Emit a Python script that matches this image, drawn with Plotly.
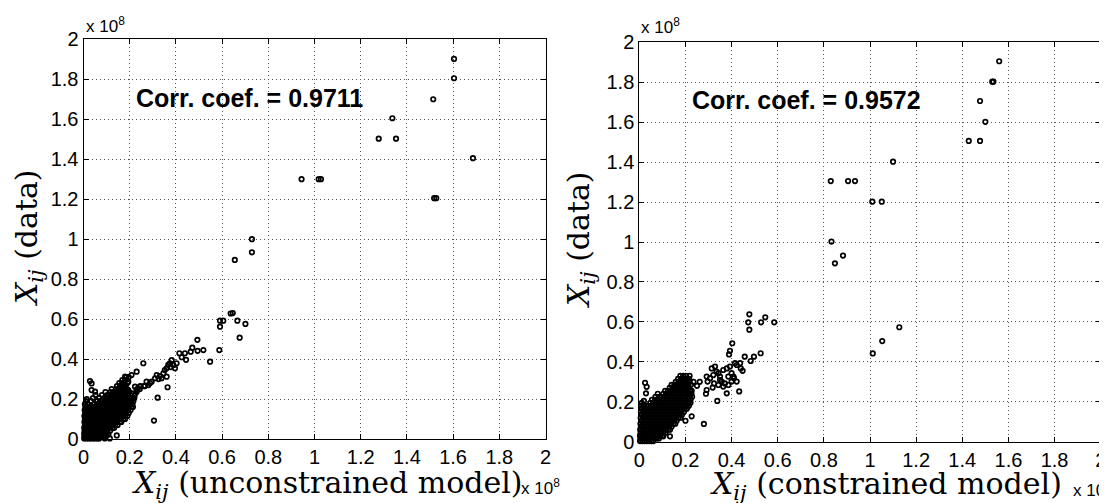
import plotly.graph_objects as go

# values in units of 1e8
# --- left panel: unconstrained model ---
left_outlier_x = [1.604, 1.604, 1.514, 1.337, 1.278, 1.353, 1.686, 0.944, 1.018, 1.028, 1.518, 1.527,
                  0.729, 0.729, 0.655, 0.637, 0.646, 0.666, 0.701, 0.676, 0.591, 0.605, 0.591, 0.588,
                  0.548, 0.493, 0.494, 0.519, 0.471, 0.464, 0.439, 0.425, 0.444, 0.403, 0.415,
                  0.364, 0.321, 0.305, 0.259, 0.108, 0.144, 0.028, 0.035, 0.035, 0.05, 0.014]
left_outlier_y = [1.902, 1.805, 1.70, 1.605, 1.503, 1.503, 1.405, 1.30, 1.30, 1.30, 1.205, 1.205,
                  1.00, 0.934, 0.896, 0.628, 0.630, 0.592, 0.576, 0.507, 0.592, 0.592, 0.562, 0.445,
                  0.387, 0.496, 0.441, 0.445, 0.457, 0.437, 0.429, 0.409, 0.396, 0.379, 0.429,
                  0.259, 0.207, 0.092, 0.379, 0.022, 0.018, 0.29, 0.278, 0.245, 0.237, 0.20]
# the band of points between the cluster and ~0.4
left_band_x = [0.230, 0.245, 0.266, 0.281, 0.295, 0.310, 0.317, 0.331, 0.346, 0.360, 0.367, 0.374,
               0.382, 0.389, 0.396, 0.360, 0.338, 0.273, 0.208, 0.230, 0.180, 0.194, 0.165, 0.194,
               0.208, 0.216, 0.201, 0.223, 0.352, 0.378, 0.325, 0.288]
left_band_y = [0.245, 0.262, 0.265, 0.270, 0.287, 0.304, 0.320, 0.315, 0.329, 0.354, 0.371, 0.379,
               0.395, 0.370, 0.354, 0.312, 0.304, 0.287, 0.320, 0.337, 0.312, 0.287, 0.270, 0.245,
               0.229, 0.204, 0.187, 0.262, 0.345, 0.360, 0.300, 0.280]
# dense cluster near origin, row by row: (y, [x, ...])
left_cluster = [
    (0.003, [0.003, 0.012, 0.022, 0.031, 0.041, 0.05, 0.06, 0.068, 0.092, 0.114]),
    (0.015, [0.004, 0.014, 0.025, 0.034, 0.045, 0.056, 0.066, 0.077, 0.088, 0.097]),
    (0.028, [0.003, 0.013, 0.024, 0.035, 0.046, 0.057, 0.068, 0.079, 0.09, 0.101]),
    (0.042, [0.005, 0.016, 0.027, 0.038, 0.049, 0.06, 0.071, 0.082, 0.093, 0.104, 0.116]),
    (0.056, [0.003, 0.014, 0.026, 0.037, 0.048, 0.059, 0.07, 0.081, 0.092, 0.103, 0.114, 0.125, 0.133]),
    (0.07, [0.006, 0.017, 0.028, 0.039, 0.05, 0.061, 0.072, 0.083, 0.094, 0.105, 0.116, 0.127, 0.138, 0.148]),
    (0.085, [0.004, 0.015, 0.026, 0.037, 0.048, 0.059, 0.07, 0.081, 0.092, 0.103, 0.114, 0.125, 0.136,
             0.147, 0.158, 0.164]),
    (0.1, [0.006, 0.017, 0.029, 0.04, 0.051, 0.062, 0.073, 0.084, 0.095, 0.106, 0.117, 0.128, 0.139,
           0.15, 0.161, 0.172, 0.18]),
    (0.115, [0.004, 0.015, 0.027, 0.038, 0.049, 0.06, 0.071, 0.082, 0.093, 0.104, 0.115, 0.126, 0.137,
             0.148, 0.159, 0.17, 0.181, 0.19]),
    (0.13, [0.007, 0.018, 0.03, 0.041, 0.053, 0.064, 0.075, 0.086, 0.097, 0.108, 0.119, 0.13, 0.141,
            0.152, 0.163, 0.174, 0.185, 0.196]),
    (0.145, [0.005, 0.016, 0.028, 0.039, 0.05, 0.061, 0.072, 0.083, 0.094, 0.105, 0.116, 0.127, 0.138,
             0.149, 0.16, 0.171, 0.182, 0.193, 0.204]),
    (0.16, [0.008, 0.019, 0.031, 0.043, 0.054, 0.065, 0.076, 0.087, 0.098, 0.109, 0.12, 0.131, 0.142,
            0.153, 0.164, 0.175, 0.186, 0.197, 0.208, 0.214]),
    (0.175, [0.006, 0.017, 0.045, 0.058, 0.07, 0.081, 0.092, 0.103, 0.114, 0.125, 0.136, 0.147, 0.158,
             0.169, 0.18, 0.191, 0.202, 0.212]),
    (0.19, [0.012, 0.034, 0.06, 0.072, 0.084, 0.095, 0.106, 0.117, 0.128, 0.139, 0.15, 0.161, 0.172,
            0.183, 0.194, 0.205, 0.216]),
    (0.205, [0.041, 0.068, 0.088, 0.1, 0.111, 0.122, 0.133, 0.144, 0.155, 0.166, 0.177, 0.188, 0.199,
             0.21, 0.22]),
    (0.22, [0.052, 0.08, 0.103, 0.116, 0.127, 0.138, 0.149, 0.16, 0.171, 0.182, 0.193, 0.204, 0.222]),
    (0.235, [0.095, 0.118, 0.13, 0.142, 0.153, 0.164, 0.175, 0.186, 0.197, 0.23]),
    (0.25, [0.122, 0.14, 0.152, 0.164, 0.176, 0.188, 0.232, 0.244]),
    (0.265, [0.145, 0.158, 0.17, 0.182, 0.246, 0.262]),
    (0.28, [0.155, 0.167, 0.178, 0.19]),
    (0.295, [0.168, 0.18]),
    (0.31, [0.185, 0.196]),
]

# --- right panel: constrained model ---
right_outlier_x = [1.560, 1.530, 1.535, 1.477, 1.500, 1.428, 1.477, 1.100, 0.935, 0.905, 0.830, 1.010,
                   1.051, 0.833, 0.848, 0.883, 1.127, 1.053, 1.012, 0.477, 0.472, 0.477, 0.528, 0.546,
                   0.585, 0.526, 0.497, 0.483, 0.457, 0.403, 0.393, 0.389, 0.433, 0.338, 0.280,
                   0.025, 0.032, 0.029, 0.020, 0.227, 0.104, 0.133]
right_outlier_y = [1.905, 1.803, 1.803, 1.706, 1.602, 1.506, 1.506, 1.402, 1.305, 1.305, 1.305, 1.202,
                   1.202, 1.002, 0.893, 0.932, 0.573, 0.504, 0.442, 0.638, 0.598, 0.561, 0.598, 0.623,
                   0.598, 0.443, 0.426, 0.404, 0.426, 0.493, 0.455, 0.437, 0.252, 0.204, 0.089,
                   0.295, 0.275, 0.242, 0.204, 0.127, 0.027, 0.027]
right_band_x = [0.292, 0.296, 0.292, 0.289, 0.314, 0.328, 0.335, 0.350, 0.357, 0.371, 0.379, 0.386,
                0.400, 0.408, 0.415, 0.422, 0.437, 0.440, 0.448, 0.393, 0.379, 0.364, 0.343, 0.321,
                0.307, 0.324, 0.343, 0.364, 0.318, 0.350, 0.400, 0.410, 0.422, 0.386, 0.262, 0.250]
right_band_y = [0.326, 0.301, 0.259, 0.240, 0.367, 0.376, 0.351, 0.326, 0.301, 0.292, 0.242, 0.326,
                0.343, 0.326, 0.393, 0.384, 0.393, 0.367, 0.355, 0.376, 0.367, 0.359, 0.343, 0.334,
                0.318, 0.292, 0.284, 0.276, 0.271, 0.309, 0.301, 0.318, 0.301, 0.284, 0.300, 0.280]
right_cluster = [
    (0.003, [0.003, 0.013, 0.023, 0.033, 0.043, 0.053, 0.061]),
    (0.016, [0.005, 0.015, 0.026, 0.036, 0.046, 0.056, 0.066, 0.076, 0.085]),
    (0.03, [0.003, 0.014, 0.025, 0.036, 0.047, 0.058, 0.069, 0.08, 0.091, 0.1]),
    (0.045, [0.006, 0.017, 0.028, 0.039, 0.05, 0.061, 0.072, 0.083, 0.094, 0.105, 0.114]),
    (0.06, [0.004, 0.015, 0.026, 0.037, 0.048, 0.059, 0.07, 0.081, 0.092, 0.103, 0.114, 0.125, 0.133]),
    (0.075, [0.007, 0.018, 0.029, 0.04, 0.051, 0.062, 0.073, 0.084, 0.095, 0.106, 0.117, 0.128, 0.14]),
    (0.09, [0.005, 0.016, 0.027, 0.038, 0.049, 0.06, 0.071, 0.082, 0.093, 0.104, 0.115, 0.126, 0.137,
            0.148, 0.156]),
    (0.105, [0.008, 0.019, 0.03, 0.041, 0.052, 0.063, 0.074, 0.085, 0.096, 0.107, 0.118, 0.129, 0.14,
             0.151, 0.162, 0.2]),
    (0.12, [0.006, 0.017, 0.028, 0.039, 0.05, 0.061, 0.072, 0.083, 0.094, 0.105, 0.116, 0.127, 0.138,
            0.149, 0.16, 0.171, 0.18]),
    (0.135, [0.009, 0.02, 0.031, 0.042, 0.053, 0.064, 0.075, 0.086, 0.097, 0.108, 0.119, 0.13, 0.141,
             0.152, 0.163, 0.174, 0.185]),
    (0.15, [0.007, 0.018, 0.029, 0.04, 0.051, 0.062, 0.073, 0.084, 0.095, 0.106, 0.117, 0.128, 0.139,
            0.15, 0.161, 0.172, 0.183, 0.194]),
    (0.165, [0.01, 0.021, 0.032, 0.043, 0.054, 0.065, 0.076, 0.087, 0.098, 0.109, 0.12, 0.131, 0.142,
             0.153, 0.164, 0.175, 0.186, 0.197, 0.206]),
    (0.18, [0.008, 0.019, 0.03, 0.041, 0.052, 0.063, 0.074, 0.085, 0.096, 0.107, 0.118, 0.129, 0.14,
            0.151, 0.162, 0.173, 0.184, 0.195, 0.206, 0.215]),
    (0.195, [0.011, 0.048, 0.06, 0.071, 0.082, 0.093, 0.104, 0.115, 0.126, 0.137, 0.148, 0.159, 0.17,
             0.181, 0.192, 0.203, 0.214, 0.222]),
    (0.21, [0.055, 0.068, 0.079, 0.09, 0.101, 0.112, 0.123, 0.134, 0.145, 0.156, 0.167, 0.178, 0.189,
            0.2, 0.211, 0.222]),
    (0.225, [0.07, 0.086, 0.098, 0.109, 0.12, 0.131, 0.142, 0.153, 0.164, 0.175, 0.186, 0.197, 0.208,
             0.219, 0.229]),
    (0.24, [0.08, 0.104, 0.116, 0.127, 0.138, 0.149, 0.16, 0.171, 0.182, 0.193, 0.204, 0.215, 0.226]),
    (0.255, [0.112, 0.124, 0.136, 0.148, 0.16, 0.172, 0.184, 0.196, 0.208, 0.22, 0.227]),
    (0.27, [0.132, 0.144, 0.156, 0.168, 0.18, 0.192, 0.204, 0.216]),
    (0.285, [0.14, 0.152, 0.164, 0.176, 0.188, 0.2, 0.212, 0.224]),
    (0.3, [0.158, 0.17, 0.182, 0.194, 0.206, 0.218, 0.235]),
    (0.315, [0.168, 0.18, 0.192, 0.204, 0.216]),
    (0.33, [0.178, 0.19, 0.202, 0.218]),
]

tick_vals = [0, 0.2, 0.4, 0.6, 0.8, 1, 1.2, 1.4, 1.6, 1.8, 2]
tick_text = ["0", "0.2", "0.4", "0.6", "0.8", "1", "1.2", "1.4", "1.6", "1.8", "2"]
corr_left = "Corr. coef. = 0.9711"
corr_right = "Corr. coef. = 0.9572"


def flatten(rows):
    xs, ys = [], []
    for y, row in rows:
        xs += row
        ys += [y] * len(row)
    return xs, ys


def panel_points(outx, outy, bandx, bandy, rows):
    cx, cy = flatten(rows)
    return outx + bandx + cx, outy + bandy + cy


lx, ly = panel_points(left_outlier_x, left_outlier_y, left_band_x, left_band_y, left_cluster)
rx, ry = panel_points(right_outlier_x, right_outlier_y, right_band_x, right_band_y, right_cluster)

# the page body has an 8px margin, so the figure is 8px smaller and shifted
OFF = 8
W, H = 1107 - OFF, 503 - OFF


def px(x):
    return (x - OFF) / W


def py(y):
    return 1 - (y - OFF) / H


marker = dict(symbol="circle-open", size=4.5, color="black", line=dict(width=1.7, color="black"))

fig = go.Figure()
fig.add_trace(go.Scatter(x=lx, y=ly, mode="markers", marker=marker, xaxis="x", yaxis="y",
                         cliponaxis=False, showlegend=False))
fig.add_trace(go.Scatter(x=rx, y=ry, mode="markers", marker=marker, xaxis="x2", yaxis="y2",
                         cliponaxis=False, showlegend=False))

axis_style = dict(
    range=[0, 2], tickvals=tick_vals, ticktext=tick_text,
    ticks="inside", ticklen=5, tickcolor="black", tickwidth=1,
    showline=True, linecolor="black", linewidth=1, mirror="ticks",
    showgrid=True, gridcolor="#555", gridwidth=1, griddash="1px,3px",
    zeroline=False, automargin=False,
    tickfont=dict(family="Liberation Sans, Arial", size=20, color="black"),
)

fig.update_layout(
    width=W, height=H,
    margin=dict(l=0, r=0, t=0, b=0, autoexpand=False),
    paper_bgcolor="white", plot_bgcolor="white",
    xaxis=dict(domain=[px(83.5), px(545.5)], anchor="y", **axis_style),
    yaxis=dict(domain=[py(439), py(39.3)], anchor="x", **axis_style),
    xaxis2=dict(domain=[px(639.3), px(1100.7)], anchor="y2", **axis_style),
    yaxis2=dict(domain=[py(441.7), py(42.3)], anchor="x2", **axis_style),
)

serif = dict(family="DejaVu Serif, serif", size=30, color="black")
sans = dict(family="Liberation Sans, Arial", size=17, color="black")
bold = dict(family="Liberation Sans, Arial", size=25, color="black", weight="bold")
xij = "<i>X</i><sub><i>ij</i></sub>"

annos = [
    dict(text=corr_left, x=0.22, y=1.707, xref="x", yref="y", xanchor="left", font=bold),
    dict(text=corr_right, x=0.22, y=1.71, xref="x2", yref="y2", xanchor="left", font=bold),
    dict(text=xij + " (unconstrained model)", x=px(327), y=py(484), font=serif),
    dict(text=xij + " (constrained model)", x=px(886), y=py(485), font=serif),
    dict(text=xij + " (data)", x=px(28), y=py(238), textangle=-90, font=serif),
    dict(text=xij + " (data)", x=px(580), y=py(240), textangle=-90, font=serif),
    dict(text="x 10<sup>8</sup>", x=px(84), y=py(25), xanchor="left", font=sans),
    dict(text="x 10<sup>8</sup>", x=px(639), y=py(26), xanchor="left", font=sans),
    dict(text="x 10<sup>8</sup>", x=px(519), y=py(487), xanchor="left", font=sans),
    dict(text="x 10<sup>8</sup>", x=px(1071), y=py(489), xanchor="left", font=sans),
]
for a in annos:
    a.setdefault("xref", "paper")
    a.setdefault("yref", "paper")
    a.setdefault("xanchor", "center")
    a.setdefault("yanchor", "middle")
    a.setdefault("showarrow", False)
    fig.add_annotation(**a)

fig.write_html("out.html")
